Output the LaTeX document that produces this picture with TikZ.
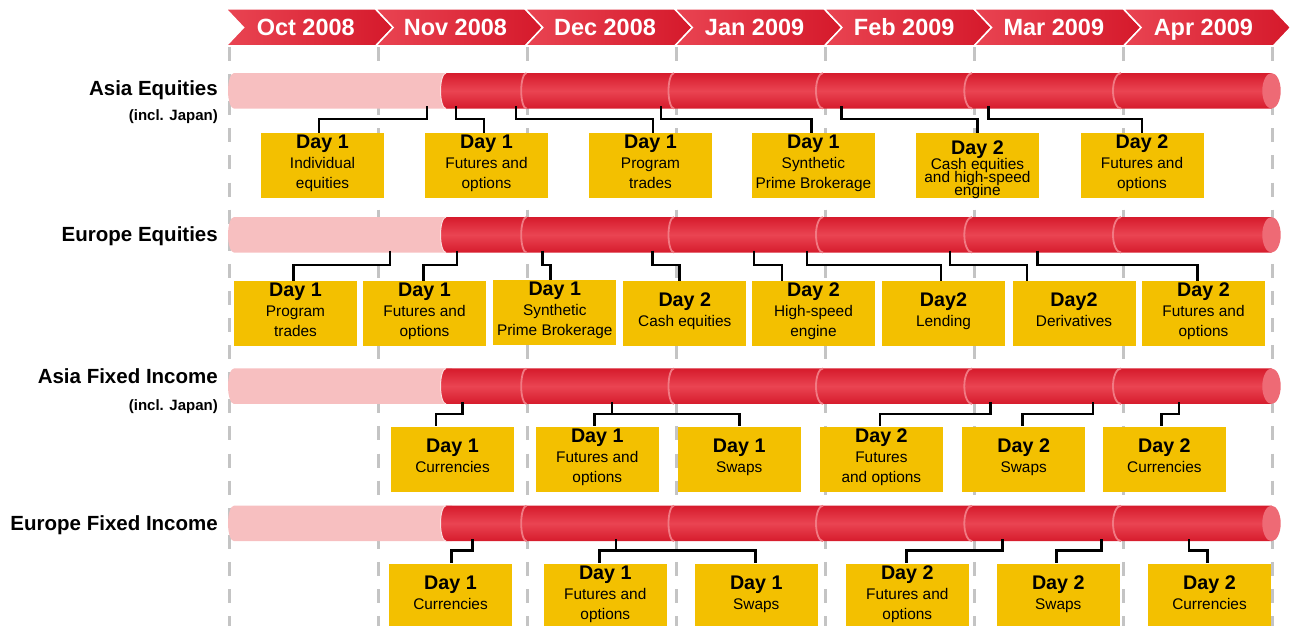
\documentclass[tikz,border=0pt]{standalone}
\usepackage{fontspec}
\setmainfont{Liberation Sans}
\definecolor{chevL}{RGB}{233,68,82}
\definecolor{chevR}{RGB}{213,25,43}
\definecolor{barPink}{RGB}{247,191,192}
\definecolor{barDark}{RGB}{214,27,44}
\definecolor{barMid}{RGB}{234,68,82}
\definecolor{barCap}{RGB}{238,106,117}
\definecolor{barSeam}{RGB}{241,122,131}
\definecolor{boxYel}{RGB}{243,192,0}
\definecolor{gridGray}{RGB}{196,196,196}
\newcommand\bxttl[1]{{\fontsize{19.7}{20}\selectfont\bfseries #1}}
\newcommand\tlbar[1]{%
  \fill[barPink] (452,{#1-17.75}) -- (234,{#1-17.75}) arc[start angle=270,end angle=90,x radius=6,y radius=17.75] -- (452,{#1+17.75}) -- cycle;
  \shade[top color=barDark,bottom color=barDark,middle color=barMid] (1271.5,{#1-17.75}) -- (446,{#1-17.75}) arc[start angle=270,end angle=90,x radius=5.5,y radius=17.75] -- (1271.5,{#1+17.75}) -- cycle;
  \draw[draw=barPink!50!white,line width=1pt] (446,{#1-17.75}) arc[start angle=270,end angle=90,x radius=5.5,y radius=17.75];
  \foreach \cx/\rx in {526.5/5.3,674/5.5,823/7,972/7.7,1121/8}{
    \draw[seam] (\cx,{#1-17.75}) arc[start angle=270,end angle=90,x radius=\rx,y radius=17.75];
  }
  \fill[barCap] (1271.5,#1) ellipse [x radius=9.2,y radius=17.75];
}
\begin{document}
\begin{tikzpicture}[x=1pt,y=-1pt,
  hdr/.style={anchor=base,text=white,font=\fontsize{23.5}{24}\selectfont\bfseries,inner sep=0pt},
  rowlbl/.style={anchor=base east,font=\fontsize{20.5}{22}\selectfont\bfseries,inner sep=0pt},
  sublbl/.style={anchor=base east,font=\fontsize{15}{16}\selectfont\bfseries,inner sep=0pt},
  box/.style={fill=boxYel,minimum width=123pt,minimum height=65pt,inner sep=0pt,align=center,
    font=\fontsize{15.4}{20}\selectfont,execute at end node={\rule[-7pt]{0pt}{7pt}}},
  conn/.style={draw=black,line width=2.8pt},
  gridline/.style={draw=gridGray,line width=3pt,dash pattern=on 14pt off 13.1pt},
  seam/.style={draw=barSeam,line width=1.8pt}]
\useasboundingbox (0,0) rectangle (1291,626);

% grid lines
\foreach \i in {0,...,7}{
  \draw[gridline] ({229.5+149.05*\i},47) -- ({229.5+149.05*\i},626);
}

% header chevrons
\foreach \i/\lab in {0/Oct 2008,1/Nov 2008,2/Dec 2008,3/Jan 2009,4/Feb 2009,5/Mar 2009,6/Apr 2009}{
  \pgfmathsetmacro\xa{226+149.6*\i}
  \pgfmathsetmacro\xb{\xa+149.6}
  \shadedraw[left color=chevL,right color=chevR,draw=white,line width=1.5pt]
    (\xa,9) -- (\xb,9) -- ({\xb+17.5},27.5) -- (\xb,46) -- (\xa,46) -- ({\xa+17.5},27.5) -- cycle;
  \node[hdr] (m\i) at ({(\xa+\xb)/2+5},36) {\lab};
}

% row labels
\node[rowlbl] (lae) at (218,95.3) {Asia Equities};
\node[sublbl] (laej) at (218,121) {(incl. Japan)};
\node[rowlbl] (lee) at (218,241.3) {Europe Equities};
\node[rowlbl] (lafi) at (218,383.3) {Asia Fixed Income};
\node[sublbl] (lafij) at (218,410.5) {(incl. Japan)};
\node[rowlbl] (lefi) at (218,530.3) {Europe Fixed Income};

% bars
\tlbar{90.8}
\tlbar{234.8}
\tlbar{386.2}
\tlbar{523.4}

% Asia Equities boxes
\node[box] (A1) at (322.5,165.2) {\bxttl{Day 1}\\Individual\\equities};
\node[box] (A2) at (486.5,165.2) {\bxttl{Day 1}\\Futures and\\options};
\node[box] (A3) at (650.5,165.2) {\bxttl{Day 1}\\Program\\trades};
\node[box] (A4) at (813.4,165.2) {\bxttl{Day 1}\\Synthetic\\Prime Brokerage};
\node[box] (A5) at (977.5,165.2) {\raisebox{-9.6pt}[28pt][28pt]{\begin{tabular}{@{}c@{}}\bxttl{Day 2}\\[-5pt]Cash equities\\[-7pt]and high-speed\\[-7pt]engine\end{tabular}}};
\node[box] (A6) at (1142,165.2) {\bxttl{Day 2}\\Futures and\\options};

% Europe Equities boxes
\node[box] (E1) at (295.5,313.5) {\bxttl{Day 1}\\Program\\trades};
\node[box] (E2) at (424.5,313.5) {\bxttl{Day 1}\\Futures and\\options};
\node[box] (E3) at (554.8,312.5) {\bxttl{Day 1}\\Synthetic\\Prime Brokerage};
\node[box] (E4) at (684.8,313.5) {\bxttl{Day 2}\\Cash equities};
\node[box] (E5) at (813.5,313.5) {\bxttl{Day 2}\\High-speed\\engine};
\node[box] (E6) at (943.5,313.5) {\bxttl{Day2}\\Lending};
\node[box] (E7) at (1074,313.5) {\bxttl{Day2}\\Derivatives};
\node[box] (E8) at (1203.5,313.5) {\bxttl{Day 2}\\Futures and\\options};

% Asia Fixed Income boxes
\node[box] (F1) at (452.5,459) {\bxttl{Day 1}\\Currencies};
\node[box] (F2) at (597.3,459) {\bxttl{Day 1}\\Futures and\\options};
\node[box] (F3) at (739.2,459) {\bxttl{Day 1}\\Swaps};
\node[box] (F4) at (881.4,459) {\bxttl{Day 2}\\Futures\\and options};
\node[box] (F5) at (1023.7,459) {\bxttl{Day 2}\\Swaps};
\node[box] (F6) at (1164.4,459) {\bxttl{Day 2}\\Currencies};

% Europe Fixed Income boxes
\node[box] (G1) at (450.5,596) {\bxttl{Day 1}\\Currencies};
\node[box] (G2) at (605.3,596) {\bxttl{Day 1}\\Futures and\\options};
\node[box] (G3) at (756.3,596) {\bxttl{Day 1}\\Swaps};
\node[box] (G4) at (907.3,596) {\bxttl{Day 2}\\Futures and\\options};
\node[box] (G5) at (1058.3,596) {\bxttl{Day 2}\\Swaps};
\node[box] (G6) at (1209.5,596) {\bxttl{Day 2}\\Currencies};

% connector sources
\coordinate (sA1) at (427,106);
\coordinate (sA2) at (456,106);
\coordinate (sA3) at (516,106);
\coordinate (sA4) at (661,106);
\coordinate (sA5) at (841.5,106);
\coordinate (sA6) at (988.7,106);
\coordinate (sE1) at (390,250.5);
\coordinate (sE2) at (457,250.5);
\coordinate (sE3) at (542.4,250.5);
\coordinate (sE4) at (652.8,250.5);
\coordinate (sE5) at (754,250.5);
\coordinate (sE6) at (807,250.5);
\coordinate (sE7) at (950,250.5);
\coordinate (sE8) at (1037.5,250.5);
\coordinate (sF1) at (462.7,402);
\coordinate (sF2) at (612,402);
\coordinate (sF4) at (990.7,402);
\coordinate (sF5) at (1093,402);
\coordinate (sF6) at (1179,402);
\coordinate (sG1) at (472.3,539);
\coordinate (sG2) at (616,539);
\coordinate (sG4) at (1002.3,539);
\coordinate (sG5) at (1101.7,539);
\coordinate (sG6) at (1189,539);

% connectors Asia Equities
\draw[conn] (sA1) -- ++(0,13) -| ([xshift=-3.5pt]A1.north);
\draw[conn] (sA2) -- ++(0,13) -| ([xshift=-2.5pt]A2.north);
\draw[conn] (sA3) -- ++(0,13) -| ([xshift=2.5pt]A3.north);
\draw[conn] (sA4) -- ++(0,13) -| ([xshift=-2pt]A4.north);
\draw[conn] (sA5) -- ++(0,13) -| (A5.north);
\draw[conn] (sA6) -- ++(0,13) -| (A6.north);
% connectors Europe Equities
\draw[conn] (sE1) -- ++(0,14.5) -| ([xshift=-2pt]E1.north);
\draw[conn] (sE2) -- ++(0,14.5) -| ([xshift=-1pt]E2.north);
\draw[conn] (sE3) -- ++(0,14.5) -| ([xshift=-4pt]E3.north);
\draw[conn] (sE4) -- ++(0,14.5) -| ([xshift=-5pt]E4.north);
\draw[conn] (sE5) -- ++(0,14.5) -| ([xshift=-31.5pt]E5.north);
\draw[conn] (sE6) -- ++(0,14.5) -| ([xshift=-2.5pt]E6.north);
\draw[conn] (sE7) -- ++(0,14.5) -| ([xshift=-47pt]E7.north);
\draw[conn] (sE8) -- ++(0,14.5) -| ([xshift=-6pt]E8.north);
% connectors Asia Fixed Income
\draw[conn] (sF1) -- ++(0,12) -| ([xshift=-16.5pt]F1.north);
\draw[conn] (sF2) -- ++(0,12) -| ([xshift=-3pt]F2.north);
\draw[conn] (sF2) -- ++(0,12) -| (F3.north);
\draw[conn] (sF4) -- ++(0,12) -| ([xshift=-1.4pt]F4.north);
\draw[conn] (sF5) -- ++(0,12) -| ([xshift=-1pt]F5.north);
\draw[conn] (sF6) -- ++(0,12) -| ([xshift=-2.7pt]F6.north);
% connectors Europe Fixed Income
\draw[conn] (sG1) -- ++(0,11.7) -| ([xshift=1.2pt]G1.north);
\draw[conn] (sG2) -- ++(0,11.7) -| ([xshift=-6pt]G2.north);
\draw[conn] (sG2) -- ++(0,11.7) -| ([xshift=-0.6pt]G3.north);
\draw[conn] (sG4) -- ++(0,11.7) -| ([xshift=-0.6pt]G4.north);
\draw[conn] (sG5) -- ++(0,11.7) -| ([xshift=-2pt]G5.north);
\draw[conn] (sG6) -- ++(0,11.7) -| ([xshift=-2.2pt]G6.north);
\end{tikzpicture}
\end{document}
